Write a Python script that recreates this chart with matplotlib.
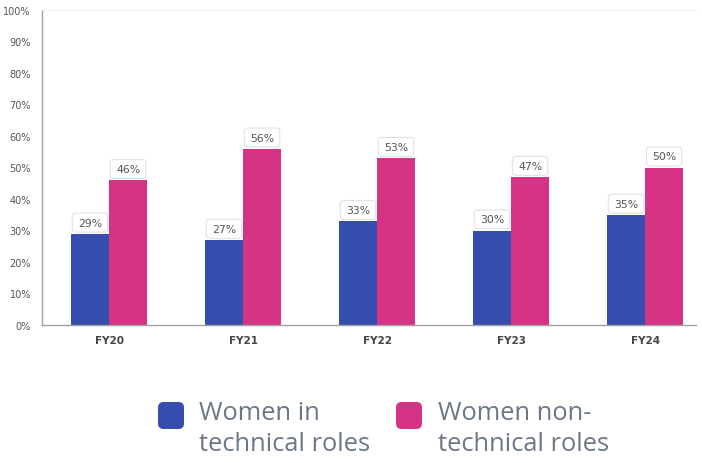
import numpy as np
import matplotlib.pyplot as plt
from matplotlib.patches import FancyBboxPatch

years = ["FY20", "FY21", "FY22", "FY23", "FY24"]
technical = [29, 27, 33, 30, 35]
non_technical = [46, 56, 53, 47, 50]
series_names = ["Women in\ntechnical roles", "Women non-\ntechnical roles"]

blue = "#344dae"
pink = "#d63384"
W, H = 702, 464

fig = plt.figure(figsize=(7.02, 4.64), dpi=100)
ax = fig.add_axes([42 / W, 1 - 326 / H, (696 - 42) / W, 315 / H])

x = np.arange(len(years))
bw = 0.284
px_per_pct = 315 / 100

for xs, vals, col in [(x - bw / 2, technical, blue), (x + bw / 2, non_technical, pink)]:
    ax.bar(xs, vals, width=bw, color=col, zorder=2)
    for xi, v in zip(xs, vals):
        h = 19 / px_per_pct
        box = FancyBboxPatch((xi - bw / 2 + 0.01, v + 0.5), bw - 0.02, h,
                             boxstyle="round,pad=0,rounding_size=0.025",
                             facecolor="white", edgecolor="#e2e2e2",
                             linewidth=0.8, mutation_aspect=134 / px_per_pct,
                             zorder=3)
        ax.add_patch(box)
        ax.text(xi, v + 0.5 + h / 2, f"{v}%", ha="center", va="center",
                fontsize=7.8, color="#555555", zorder=4)

ax.set_xlim(-0.5, 4.38)
ax.set_ylim(0, 100)
ax.set_yticks(range(0, 101, 10))
ax.set_yticklabels([f"{t}%" for t in range(0, 101, 10)], fontsize=7, color="#555555")
ax.set_xticks(x)
ax.set_xticklabels(years, fontsize=7.5, fontweight="bold", color="#444444")
ax.tick_params(length=0, pad=8)
ax.tick_params(axis="x", pad=7)
for s in ["left", "bottom"]:
    ax.spines[s].set_color("#a0a0a0")
    ax.spines[s].set_linewidth(1)
ax.spines["top"].set_color("#f0f0f0")
ax.spines["right"].set_visible(False)

# legend drawn by hand
for x0, txt_x, col, name in [(158, 199, blue, series_names[0]), (396, 438, pink, series_names[1])]:
    sq = FancyBboxPatch((x0 / W, 1 - 430 / H), 26 / W, 27 / H,
                        boxstyle="round,pad=0,rounding_size=0.008",
                        mutation_aspect=W / H,
                        transform=fig.transFigure, facecolor=col, edgecolor="none")
    fig.patches.append(sq)
    fig.text(txt_x / W, 1 - 401 / H, name, ha="left", va="top",
             fontsize=18.4, family="Open Sans", color="#6b7785", linespacing=1.3)

fig.savefig("out.png", dpi=100)
